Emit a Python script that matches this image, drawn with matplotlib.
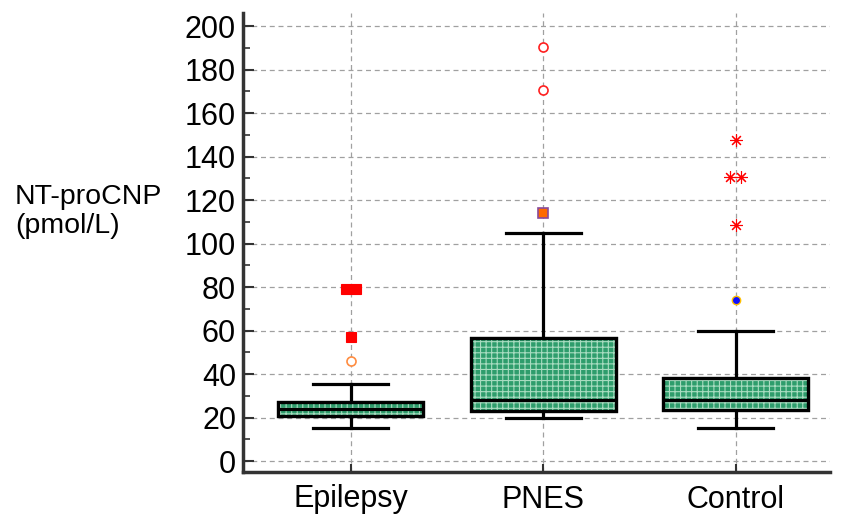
import matplotlib
matplotlib.use("Agg")
import matplotlib.pyplot as plt
from matplotlib.patches import PathPatch

plt.rcParams["font.family"] = ["Liberation Sans", "DejaVu Sans"]
plt.rcParams["hatch.linewidth"] = 0.8

# Data (pmol/L)
groups = ["Epilepsy", "PNES", "Control"]
whisker_low = [15.0, 19.6, 15.0]
q1 = [20.7, 23.0, 23.4]
median = [23.8, 28.0, 28.0]
q3 = [27.0, 56.4, 38.3]
whisker_high = [35.4, 105.0, 60.0]

# outliers per group: (value, style)
outliers = [
    [(79.0, "sq_red"), (79.0, "sq_red"), (57.0, "sq_red"), (46.0, "circ_orange")],
    [(190.5, "circ_red"), (170.8, "circ_red"), (114.2, "sq_orange")],
    [(147.6, "ast"), (130.5, "ast"), (130.5, "ast"), (108.5, "ast"), (74.0, "dot_blue")],
]
y_ticks = list(range(0, 201, 20))

styles = {
    "sq_red": dict(marker="s", ms=7.5, mfc="#ff0000", mec="#ff0000", mew=0.8),
    "circ_orange": dict(marker="o", ms=6.5, mfc="white", mec="#ff8c40", mew=1.2),
    "circ_red": dict(marker="o", ms=6.5, mfc="white", mec="#ff2020", mew=1.2),
    "sq_orange": dict(marker="s", ms=7, mfc="#ff6a00", mec="#8a4a9a", mew=1.2),
    "ast": dict(marker=(8, 2, 0), ms=9, mfc="#ff0000", mec="#ff0000", mew=0.8),
    "dot_blue": dict(marker="o", ms=6, mfc="#1010ff", mec="#ffc000", mew=1.0),
}

fig = plt.figure(figsize=(8.47, 5.17), dpi=100)
ax = fig.add_axes([243 / 847, 1 - 472 / 517, (830 - 243) / 847, (472 - 13) / 517])

positions = [1, 2, 3]
stats = []
for i, g in enumerate(groups):
    stats.append(dict(label=g, whislo=whisker_low[i], q1=q1[i], med=median[i],
                      q3=q3[i], whishi=whisker_high[i], fliers=[]))

lw = 2.3
bp = ax.bxp(stats, positions=positions, widths=0.755, patch_artist=True,
            showfliers=False,
            boxprops=dict(facecolor="#2e9d6c", edgecolor="black", linewidth=lw),
            medianprops=dict(color="black", linewidth=lw),
            whiskerprops=dict(color="black", linewidth=lw),
            capprops=dict(color="black", linewidth=lw),
            capwidths=0.39, zorder=3)

# dotted texture on top of the green fill
for box in bp["boxes"]:
    box.set_zorder(3)
    ax.add_patch(PathPatch(box.get_path(), facecolor="none", edgecolor="#a8dcc0",
                           hatch="+++", linewidth=0, zorder=3.1))
    ax.add_patch(PathPatch(box.get_path(), facecolor="none", edgecolor="black",
                           linewidth=lw, zorder=3.2))
for line in bp["medians"]:
    line.set_zorder(3.3)

# outliers; equal values are spread sideways a little
for pos, pts in zip(positions, outliers):
    vals = [v for v, _ in pts]
    seen = {}
    for v, st in pts:
        n = vals.count(v)
        k = seen.get(v, 0)
        seen[v] = k + 1
        dx = 0.0 if n == 1 else (k - (n - 1) / 2) * 0.054
        ax.plot(pos + dx, v, linestyle="none", zorder=4, **styles[st])

ax.set_xlim(0.44, 3.49)
ax.set_ylim(-5, 206)
ax.set_yticks(y_ticks)
ax.set_yticks(range(10, 201, 20), minor=True)
ax.set_xticks(positions)
ax.set_xticklabels(groups)

ax.grid(True, which="major", color="#a0a0a0", linestyle=(0, (4, 3)), linewidth=0.9)
ax.set_axisbelow(True)

for s in ["top", "right"]:
    ax.spines[s].set_visible(False)
for s in ["left", "bottom"]:
    ax.spines[s].set_linewidth(2.5)
    ax.spines[s].set_color("#333333")

ax.tick_params(axis="y", which="major", direction="in", length=8, width=1.5,
               labelsize=22, pad=5, color="#333333")
ax.tick_params(axis="y", which="minor", direction="in", length=5, width=1.2,
               color="#333333")
ax.tick_params(axis="x", direction="in", length=6, width=1.5, labelsize=22,
               pad=9, color="#333333")

fig.text(15 / 847, 1 - 204 / 517, "NT-proCNP", fontsize=20.5, ha="left", va="baseline")
fig.text(15 / 847, 1 - 233 / 517, "(pmol/L)", fontsize=20.5, ha="left", va="baseline")

fig.savefig("out.png", dpi=100)
